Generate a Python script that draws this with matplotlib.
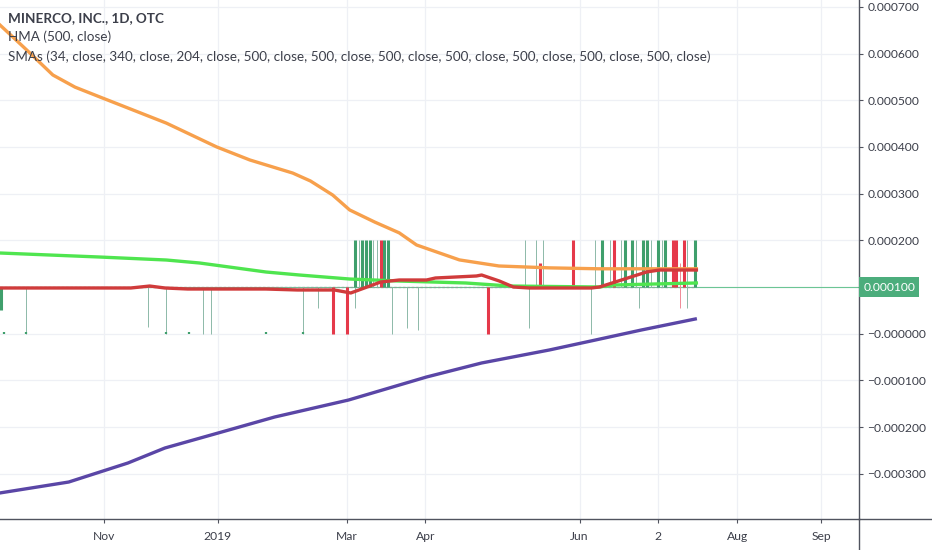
import matplotlib.pyplot as plt
from matplotlib.lines import Line2D

# x is bar number (trading days from the left edge of the view)
hma_x = [0, 7.3, 14.3, 20.3, 27, 45, 58.6, 67.6, 79.2, 84, 90, 94.6, 101.4, 108, 112.7, 124.3, 135,
         148.6, 162, 188.4]
hma_y = [0.000661, 0.000607, 0.000554, 0.000528, 0.000507, 0.000451, 0.000400, 0.000372, 0.000344,
         0.000327, 0.000297, 0.000265, 0.000239, 0.000216, 0.000190, 0.000158, 0.000145, 0.000141,
         0.000139, 0.000139]

sma_green_x = [0, 27, 45, 54, 72, 81, 94.6, 108, 126, 138, 162, 166, 188.4]
sma_green_y = [0.0001728, 0.0001642, 0.0001578, 0.0001514, 0.0001321, 0.0001257, 0.0001171,
               0.0001128, 0.0001086, 0.0001021, 0.0001000, 0.0001043, 0.0001086]

sma_red_x = [0, 35.4, 40.5, 44.6, 50.8, 71.9, 80.5, 90.5, 94.9, 103, 108, 115.4, 117.8, 128.9,
             130.3, 135.1, 138.9, 143.2, 160, 162.2, 174.9, 178.4, 188.4]
sma_red_y = [0.0000979, 0.0000979, 0.0001021, 0.0000979, 0.0000957, 0.0000957, 0.0000936, 0.0000936,
             0.0000872, 0.0001107, 0.0001150, 0.0001150, 0.0001193, 0.0001236, 0.0001257, 0.0001128,
             0.0001000, 0.0000979, 0.0000979, 0.0001000, 0.0001321, 0.0001364, 0.0001364]

sma_purple_x = [0, 18.6, 34.6, 44.6, 61.9, 74.3, 94.3, 115.4, 130.3, 148.6, 161.1, 173.5, 188.1]
sma_purple_y = [-0.000341, -0.0003176, -0.0002769, -0.0002448, -0.0002062, -0.0001784, -0.000142,
                -0.0000927, -0.0000627, -0.0000349, -0.0000135, 0.0000079, 0.0000315]

# candles: bodies (open -> close) and thin wicks (low -> high)
up_bars = [96, 98, 99, 100, 104, 105, 163, 169, 171, 174, 175, 178, 180, 188]
up_lo = 0.0001
up_hi = 0.0002
red_top_bars = [103, 155, 166, 182, 183, 185]
red_short_bar = 146
red_short_hi = 0.0001514
red_down_bars = [90, 94, 132]
upper_wicks = [97, 101, 102, 142, 145, 147, 161, 165, 168, 172, 176, 179, 186]
lower_wicks = [7, 40, 45, 55, 57, 82, 86, 96, 106, 110, 113, 143, 160, 173, 186]
lower_wick_lows = [0.0, 0.0000144, 0.0, 0.0, 0.0, 0.0, 0.000055, 0.000055, 0.0, 0.0000122,
                   0.000009, 0.0000122, 0.0, 0.000055, 0.000055]
pink_bar = 184
pink_lo, pink_hi = 0.000055, 0.0001514
zero_dots = [1, 7, 45, 51, 72, 82]
first_bar_low = 0.0000508
last_bar = 188.4

yticks = [0.0007, 0.0006, 0.0005, 0.0004, 0.0003, 0.0002, 0.0001, 0.0, -0.0001, -0.0002, -0.0003]
ylabels = ['0.000700', '0.000600', '0.000500', '0.000400', '0.000300', '0.000200', '',
           '\u22120.000000', '\u22120.000100', '\u22120.000200', '\u22120.000300']
xticks = [28.1, 58.9, 93.8, 115.1, 156.8, 178.1, 199.5, 222.2]
xlabels = ['Nov', '2019', 'Mar', 'Apr', 'Jun', '2', 'Aug', 'Sep']

GREEN = '#3f9f6c'
RED = '#e5394a'
WICK = '#8db9a9'
AXIS = '#50535e'

plt.rcParams['font.family'] = ['Lato', 'DejaVu Sans']

fig = plt.figure(figsize=(9.32, 5.5), dpi=100)
ax = fig.add_axes([0, 31 / 550, 859 / 932, 519 / 550])
ax.set_xlim(0, 232.4)
ax.set_ylim(-0.0003968, 0.0007146)

for v in yticks:
    ax.axhline(v, color='#eef0f5', lw=0.9, zorder=0)
for v in xticks:
    ax.axvline(v, color='#eef0f5', lw=0.9, zorder=0)

# current price line
ax.axhline(0.0001, color='#6cc595', lw=0.8, zorder=1)
ax.hlines(0.0001, 0, last_bar, colors='#8aa597', lw=0.9, linestyles=(0, (2, 1.5)), zorder=2)

# candles
ax.vlines(upper_wicks, up_lo, up_hi, colors=WICK, lw=0.7, zorder=2)
ax.vlines(lower_wicks, lower_wick_lows, up_lo, colors=WICK, lw=0.7, zorder=2)
ax.vlines(pink_bar, pink_lo, pink_hi, colors='#f08a96', lw=0.7, zorder=2)
ax.vlines(up_bars, up_lo, up_hi, colors=GREEN, lw=2.2, zorder=3)
ax.vlines(red_top_bars, up_lo, up_hi, colors=RED, lw=2.2, zorder=3)
ax.vlines(red_short_bar, up_lo, red_short_hi, colors=RED, lw=2.2, zorder=3)
ax.vlines(red_down_bars, 0.0, up_lo, colors=RED, lw=2.2, zorder=3)
ax.vlines(zero_dots, 0.0, 0.0000035, colors=GREEN, lw=1.6, zorder=3)
ax.vlines(0.3, first_bar_low, up_lo, colors=GREEN, lw=2.2, zorder=3)

# indicator lines
ax.plot(hma_x, hma_y, color='#f7a04c', lw=2.4, zorder=4, solid_joinstyle='round')
ax.plot(sma_green_x, sma_green_y, color='#4fe54f', lw=2.4, zorder=4)
ax.plot(sma_red_x, sma_red_y, color='#d03b3b', lw=2.4, zorder=5)
ax.plot(sma_purple_x, sma_purple_y, color='#5a46a6', lw=2.4, zorder=4)

# axes
for s in ['top', 'left']:
    ax.spines[s].set_visible(False)
for s in ['right', 'bottom']:
    ax.spines[s].set_color(AXIS)
    ax.spines[s].set_linewidth(1.0)
ax.yaxis.tick_right()
ax.set_yticks(yticks)
ax.set_yticklabels(ylabels)
ax.set_xticks(xticks)
ax.set_xticklabels(xlabels)
ax.tick_params(axis='y', length=3, width=0.8, color=AXIS, labelcolor='#3c3f4a', labelsize=8.7, pad=3)
ax.tick_params(axis='x', length=3, width=0.8, color=AXIS, labelcolor='#3c3f4a', labelsize=8.7, pad=6)

fig.add_artist(Line2D([859 / 932, 859 / 932], [0, 31 / 550], color=AXIS, lw=1.0))
fig.add_artist(Line2D([859 / 932, 1], [31 / 550, 31 / 550], color=AXIS, lw=1.0))

# last price label
ax.annotate('0.000100', xy=(1, 0.0001), xycoords=('axes fraction', 'data'),
            xytext=(3, 0), textcoords='offset points', va='center', ha='left',
            fontsize=8.7, color='white', annotation_clip=False,
            bbox=dict(boxstyle='square,pad=0.35', fc='#4cad7c', ec='none'))

fig.text(8 / 932, 1 - 18 / 550, 'MINERCO, INC., 1D, OTC', fontsize=9.7, fontweight='bold',
         color='#3c3f4a', va='center')
fig.text(8 / 932, 1 - 37 / 550, 'HMA (500, close)', fontsize=9.7, color='#3c3f4a', va='center')
fig.text(8 / 932, 1 - 57 / 550,
         'SMAs (34, close, 340, close, 204, close, 500, close, 500, close, 500, close, '
         '500, close, 500, close, 500, close, 500, close)',
         fontsize=9.7, color='#3c3f4a', va='center')

fig.savefig('out.png', dpi=100)
